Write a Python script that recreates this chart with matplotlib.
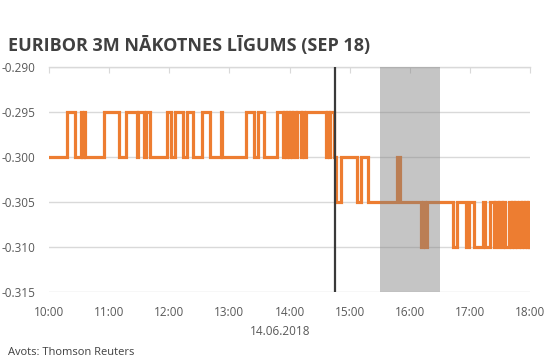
import matplotlib
matplotlib.use("Agg")
import matplotlib.pyplot as plt
import matplotlib.dates as mdates
import pandas as pd

plt.rcParams['font.family'] = ['Open Sans', 'DejaVu Sans']

# change points of the futures price (value holds until the next time)
times = ["10:00", "10:18", "10:26", "10:32", "10:33", "10:35", "10:36", "10:55",
         "11:10", "11:17", "11:28", "11:29", "11:35", "11:37", "11:41", "11:58",
         "12:02", "12:06", "12:14", "12:18", "12:24", "12:33", "12:41", "12:52",
         "12:53", "13:17", "13:25", "13:29", "13:35", "13:47", "13:53", "13:54",
         "13:56", "13:57", "13:59", "14:00", "14:02", "14:03", "14:06", "14:07",
         "14:11", "14:12", "14:14", "14:16", "14:36", "14:37", "14:39", "14:40",
         "14:44", "14:46", "14:51", "15:07", "15:11", "15:18", "15:47", "15:50",
         "16:11", "16:13", "16:15", "16:17", "16:43", "16:47", "16:56", "16:59",
         "17:04", "17:13", "17:15", "17:20", "17:24", "17:25", "17:28", "17:29",
         "17:32", "17:33", "17:35", "17:39", "17:41", "17:42", "17:44", "17:45",
         "17:47", "17:49", "17:51", "17:52", "17:54", "17:55", "17:57", "17:58",
         "17:59", "18:00"]
values = [-0.300, -0.295, -0.300, -0.295, -0.300, -0.295, -0.300, -0.295,
          -0.300, -0.295, -0.300, -0.295, -0.300, -0.295, -0.300, -0.295,
          -0.300, -0.295, -0.300, -0.295, -0.300, -0.295, -0.300, -0.295,
          -0.300, -0.295, -0.300, -0.295, -0.300, -0.295, -0.300, -0.295,
          -0.300, -0.295, -0.300, -0.295, -0.300, -0.295, -0.300, -0.295,
          -0.300, -0.295, -0.300, -0.295, -0.300, -0.295, -0.300, -0.295,
          -0.300, -0.305, -0.300, -0.305, -0.300, -0.305, -0.300, -0.305,
          -0.310, -0.305, -0.310, -0.305, -0.310, -0.305, -0.310, -0.305,
          -0.310, -0.305, -0.310, -0.305, -0.310, -0.305, -0.310, -0.305,
          -0.310, -0.305, -0.310, -0.305, -0.310, -0.305, -0.310, -0.305,
          -0.310, -0.305, -0.310, -0.305, -0.310, -0.305, -0.310, -0.305,
          -0.310, -0.310]

day = "2018-06-14"
ecb_decision = "14:45"
press_conf = ("15:30", "16:30")
y_ticks = [-0.315, -0.310, -0.305, -0.300, -0.295, -0.290]

x = pd.to_datetime([day + " " + t for t in times])

fig = plt.figure(figsize=(5.53, 3.6), dpi=100)
ax = fig.add_axes([0.0886, 0.189, 0.870, 0.625])

ax.plot(x, values, drawstyle='steps-post', color='#ED7D31', linewidth=2.3,
        solid_joinstyle='miter', zorder=3)

# ECB decision line and press conference window
ax.axvline(pd.Timestamp(day + " " + ecb_decision), color='#3a3a3a', linewidth=1.6, zorder=4)
ax.axvspan(pd.Timestamp(day + " " + press_conf[0]), pd.Timestamp(day + " " + press_conf[1]),
           color='#808080', alpha=0.45, linewidth=0, zorder=5)

ax.set_xlim(pd.Timestamp(day + " 10:00"), pd.Timestamp(day + " 18:00"))
ax.set_ylim(-0.315, -0.290)
ax.set_yticks(y_ticks)
ax.yaxis.set_major_formatter(matplotlib.ticker.FormatStrFormatter('%.3f'))
ax.xaxis.set_major_locator(mdates.HourLocator())
ax.xaxis.set_major_formatter(mdates.DateFormatter('%H:%M'))

ax.grid(axis='y', color='#d9d9d9', linewidth=1)
ax.set_axisbelow(True)
for s in ['left', 'right', 'bottom']:
    ax.spines[s].set_visible(False)
ax.spines['top'].set_color('#d9d9d9')
ax.spines['top'].set_linewidth(1)

ax.tick_params(axis='y', length=0, labelsize=8.5, labelcolor='#595959', pad=10)
ax.tick_params(axis='x', bottom=False, top=True, direction='in', length=4,
               color='#d9d9d9', labelsize=8.5, labelcolor='#595959', pad=10)

fig.text(0.506, 0.078, "14.06.2018", ha='center', va='center', fontsize=8.5, color='#595959')
fig.text(0.014, 0.875, "EURIBOR 3M NĀKOTNES LĪGUMS (SEP 18)", ha='left', va='center',
         fontsize=13, fontweight='bold', color='#404040')
fig.text(0.014, 0.022, "Avots: Thomson Reuters", ha='left', va='center', fontsize=8, color='#404040')

fig.savefig("out.png", dpi=100)
